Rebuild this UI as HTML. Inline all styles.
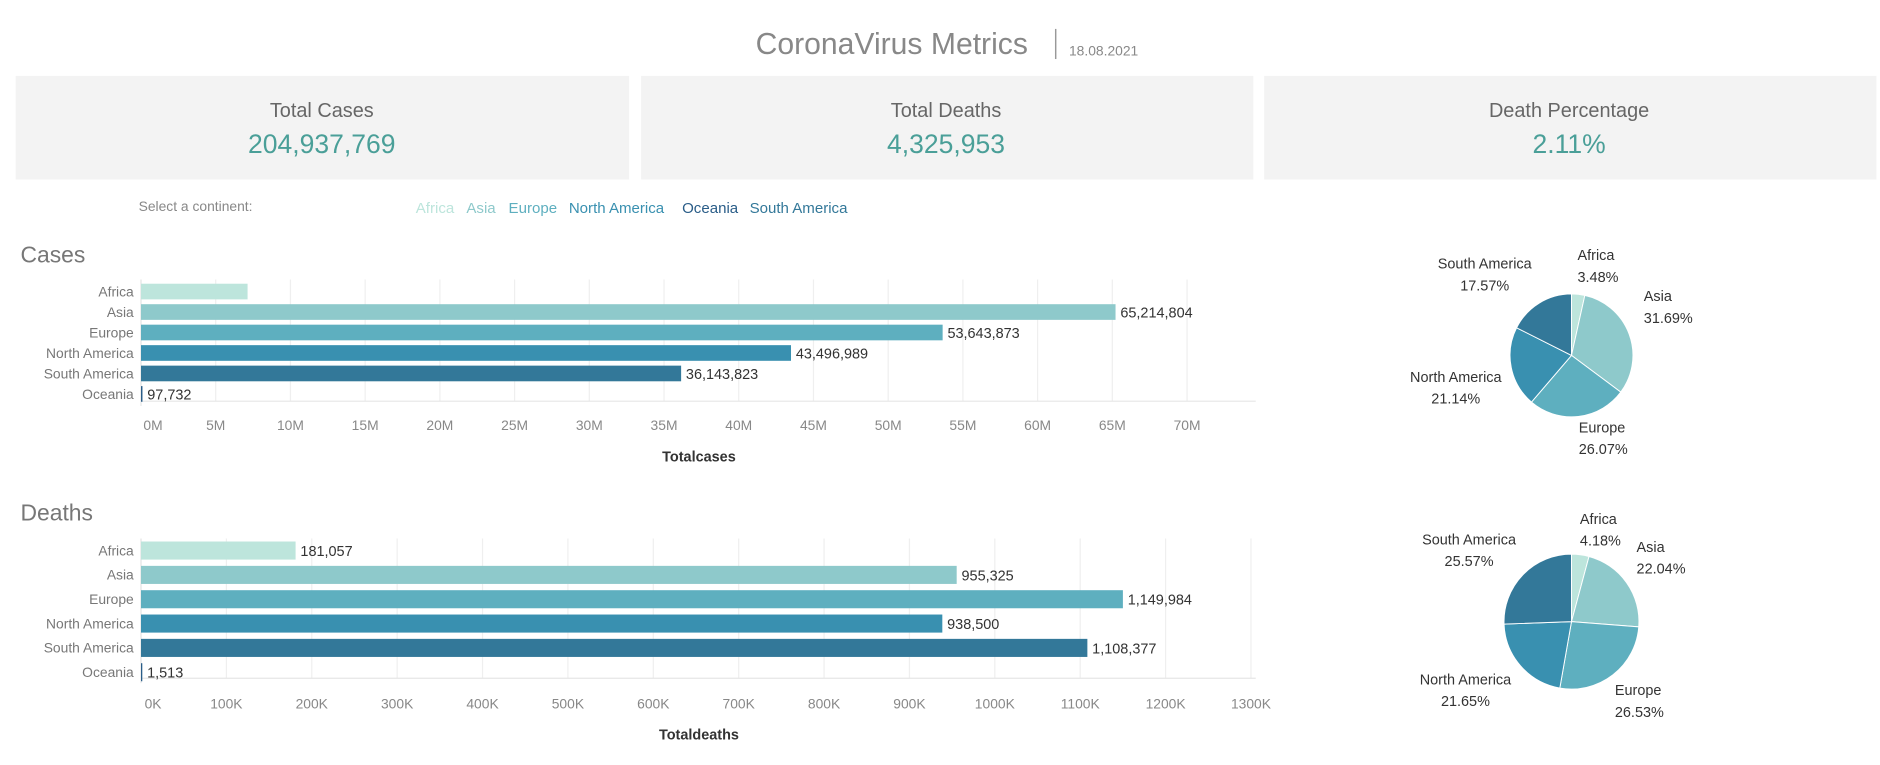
<!DOCTYPE html>
<html><head><meta charset="utf-8"><style>
html,body{margin:0;padding:0;background:#fff;width:1880px;height:765px;overflow:hidden;font-family:"Liberation Sans",sans-serif}
svg{display:block}
text{font-family:"Liberation Sans",sans-serif}
</style></head><body>
<svg id="c" width="1880" height="765" viewBox="0 0 1560 635" preserveAspectRatio="none" xmlns="http://www.w3.org/2000/svg">
<g>
<text x="740" y="45" text-anchor="middle" font-size="25" fill="#888">CoronaVirus Metrics</text>
<line x1="876" y1="24" x2="876" y2="49" stroke="#999" stroke-width="1.2"/>
<text x="887" y="46" font-size="11.5" fill="#888">18.08.2021</text>
</g>
<g>
<rect x="13" y="63" width="509" height="86" fill="#f3f3f3"/>
<text x="267" y="97" text-anchor="middle" font-size="16.5" fill="#666">Total Cases</text>
<text x="267" y="127" text-anchor="middle" font-size="22" fill="#4a9f98">204,937,769</text>
</g>
<g>
<rect x="532" y="63" width="508" height="86" fill="#f3f3f3"/>
<text x="785" y="97" text-anchor="middle" font-size="16.5" fill="#666">Total Deaths</text>
<text x="785" y="127" text-anchor="middle" font-size="22" fill="#4a9f98">4,325,953</text>
</g>
<g>
<rect x="1049" y="63" width="508" height="86" fill="#f3f3f3"/>
<text x="1302" y="97" text-anchor="middle" font-size="16.5" fill="#666">Death Percentage</text>
<text x="1302" y="127" text-anchor="middle" font-size="22" fill="#4a9f98">2.11%</text>
</g>
<text x="115" y="175" font-size="11.5" fill="#888">Select a continent:</text>
<g id="legend"></g>
<text x="17" y="218" font-size="19" fill="#777">Cases</text>
<text x="17" y="432" font-size="19" fill="#777">Deaths</text>
<g id="casesChart"></g>
<g id="deathsChart"></g>
<g id="casesPie"></g>
<g id="deathsPie"></g>
</svg>
<script>
const continents = ["Africa","Asia","Europe","North America","South America","Oceania"];
const colors = ["#bde5dc","#8ec9cb","#5eafbf","#3990b0","#337899","#2a5d88"];
const casesValues = [7132000,65214804,53643873,43496989,36143823,97732];
const casesLabels = ["","65,214,804","53,643,873","43,496,989","36,143,823","97,732"];
const deathsValues = [181057,955325,1149984,938500,1108377,1513];
const deathsLabels = ["181,057","955,325","1,149,984","938,500","1,108,377","1,513"];
const casesTicks = [0,5,10,15,20,25,30,35,40,45,50,55,60,65,70];
const deathsTicks = [0,100,200,300,400,500,600,700,800,900,1000,1100,1200,1300];
const pieOrder = ["Africa","Asia","Europe","North America","South America"];
const casesPct = [3.48,31.69,26.07,21.14,17.57];
const deathsPct = [4.18,22.04,26.53,21.65,25.57];
const legendItems = ["Africa","Asia","Europe","North America","Oceania","South America"];
const legendColors = ["#bde5dc","#8ec9cb","#5eafbf","#3990b0","#2a5d88","#337899"];

const NS="http://www.w3.org/2000/svg";
function mk(tag,attrs,parent,txt){const e=document.createElementNS(NS,tag);for(const k in attrs)e.setAttribute(k,attrs[k]);if(txt!==undefined)e.textContent=txt;parent.appendChild(e);return e;}

const lg=document.getElementById('legend');
const legendX=[345,387,422,472,566,622];
legendItems.forEach((n,i)=>{
  const t=mk('text',{x:legendX[i],y:177,'font-size':12.5,fill:legendColors[i]},lg,n);
  
  
});

function barChart(g,values,labels,ticks,tickUnit,tickSuffix,cfg){
  const x=v=>cfg.x0+v*cfg.scale;
  ticks.forEach(t=>{
    const px=x(t*tickUnit);
    const gl=mk('line',{x1:px,y1:cfg.gridTop,x2:px,y2:cfg.axisY,stroke:'#efefef','stroke-width':1},g);
    
    
    const tl=mk('text',{x:px+(t===0?10:0),y:cfg.tickY,'text-anchor':'middle','font-size':11.5,fill:'#888'},g,t+tickSuffix);
    
    
  });
  mk('line',{x1:cfg.x0,y1:cfg.axisY,x2:cfg.right,y2:cfg.axisY,stroke:'#e6e6e6'},g);
  mk('line',{x1:cfg.x0,y1:cfg.gridTop,x2:cfg.x0,y2:cfg.axisY+4,stroke:'#e6e6e6'},g);
  values.forEach((v,i)=>{
    const yc=cfg.y0+i*cfg.pitch;
    const cl=mk('text',{x:111,y:yc+4,'text-anchor':'end','font-size':11.5,fill:'#777'},g,continents[i]);
    
    
    const r=mk('rect',{x:cfg.x0,y:yc-cfg.bh/2,width:Math.max(0,x(v)-cfg.x0),height:cfg.bh,fill:colors[i]},g);
    
    
    if(labels[i]){
      const vl=mk('text',{x:x(v)+4,y:yc+4.5,'font-size':12,fill:'#333'},g,labels[i]);
      
      
    }
  });
  const at=mk('text',{x:cfg.titleX,y:cfg.titleY,'text-anchor':'middle','font-size':12,fill:'#333','font-weight':'bold'},g,cfg.title);
  
  
}
barChart(document.getElementById('casesChart'),casesValues,casesLabels,casesTicks,1e6,'M',
 {x0:117,scale:12.4/1e6,right:1042,gridTop:232,axisY:333,tickY:357,y0:242,pitch:17,bh:13,title:'Totalcases',titleX:580,titleY:383});
barChart(document.getElementById('deathsChart'),deathsValues,deathsLabels,deathsTicks,1e3,'K',
 {x0:117,scale:70.85/1e5,right:1042,gridTop:447,axisY:563,tickY:588,y0:457,pitch:20.2,bh:15,title:'Totaldeaths',titleX:580,titleY:614});

function pie(g,pcts,cx,cy,r,labelPos){
  const total=pcts.reduce((a,b)=>a+b,0);
  let a=-Math.PI/2;
  pcts.forEach((p,i)=>{
    const a2=a+p/total*2*Math.PI;
    const large=(a2-a)>Math.PI?1:0;
    const d=`M${cx},${cy} L${cx+r*Math.cos(a)},${cy+r*Math.sin(a)} A${r},${r} 0 ${large} 1 ${cx+r*Math.cos(a2)},${cy+r*Math.sin(a2)} Z`;
    const s=mk('path',{d:d,fill:colors[continents.indexOf(pieOrder[i])],stroke:'#fff','stroke-width':0.8},g);
    
    
    a=a2;
    const lp=labelPos[i];
    const t=mk('text',{x:lp[0],y:lp[1],'text-anchor':lp[2],'font-size':12,fill:'#333'},g);
    
    
    mk('tspan',{x:lp[0],dy:0},t,pieOrder[i]);
    mk('tspan',{x:lp[0],dy:18},t,p.toFixed(2)+'%');
  });
}
pie(document.getElementById('casesPie'),casesPct,1304,295,51,
 [[1309,216,'start'],[1364,250,'start'],[1310,359,'start'],[1208,317,'middle'],[1232,223,'middle']]);
pie(document.getElementById('deathsPie'),deathsPct,1304,516,56,
 [[1311,435,'start'],[1358,458,'start'],[1340,577,'start'],[1216,568,'middle'],[1219,452,'middle']]);
</script>
</body></html>
